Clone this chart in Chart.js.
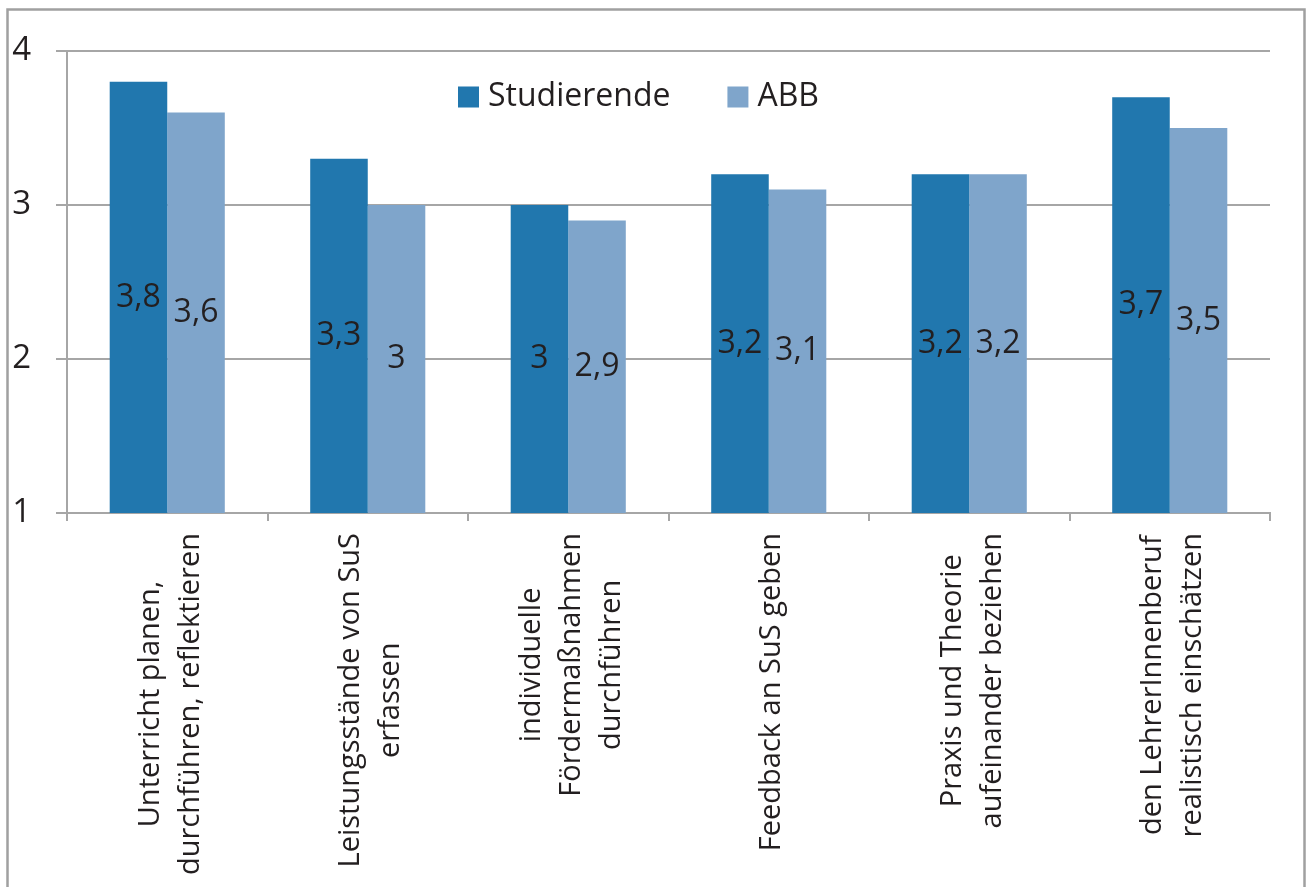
<!DOCTYPE html>
<html lang="de">
<head>
<meta charset="utf-8">
<title>Studierende / ABB</title>
<script src="https://cdn.jsdelivr.net/npm/chart.js@4.4.0/dist/chart.umd.min.js"></script>
<style>
  html, body { margin: 0; padding: 0; background: #fff; overflow: hidden; }
  #wrap { width: 1306px; height: 887px; position: relative; }
</style>
</head>
<body>
<div id="wrap"><canvas id="grafik"></canvas></div>
<script>
const kategorien = [
    ["Unterricht planen,", "durchführen, reflektieren"],
    ["Leistungsstände von SuS", "erfassen"],
    ["individuelle", "Fördermaßnahmen", "durchführen"],
    ["Feedback an SuS geben"],
    ["Praxis und Theorie", "aufeinander beziehen"],
    ["den LehrerInnenberuf", "realistisch einschätzen"]
];
const studierende = [3.8, 3.3, 3.0, 3.2, 3.2, 3.7];
const abb = [3.6, 3.0, 2.9, 3.1, 3.2, 3.5];
const yTicks = [1, 2, 3, 4];

const textFarbe = "#231f20";
const linienFarbe = "#a6a6a6";
const schrift = '"Open Sans", "DejaVu Sans", sans-serif';

function formatWert(v) {
    return String(v).replace(".", ",");
}

// grauer Rahmen um das ganze Diagramm
const rahmenPlugin = {
    id: "rahmen",
    beforeDraw(chart) {
        const ctx = chart.ctx;
        ctx.save();
        ctx.strokeStyle = "#a0a0a0";
        ctx.lineWidth = 2.5;
        ctx.strokeRect(7.5, 9.5, chart.width - 9, chart.height + 20);
        ctx.restore();
    }
};

// Werte mitten in den sichtbaren Teil der Balken
const wertePlugin = {
    id: "werte",
    afterDatasetsDraw(chart) {
        const ctx = chart.ctx;
        const unten = chart.chartArea.bottom;
        ctx.save();
        ctx.font = "32px " + schrift;
        ctx.fillStyle = textFarbe;
        ctx.textAlign = "center";
        ctx.textBaseline = "middle";
        chart.data.datasets.forEach((ds, di) => {
            const meta = chart.getDatasetMeta(di);
            meta.data.forEach((bar, i) => {
                const p = bar.getProps(["x", "y", "base"], true);
                const basis = Math.min(p.base, unten);
                ctx.fillText(formatWert(ds.data[i]), p.x, (p.y + basis) / 2);
            });
        });
        ctx.restore();
    }
};

// Legende innerhalb der Zeichenfläche
const legendePlugin = {
    id: "legende",
    afterDatasetsDraw(chart) {
        const ctx = chart.ctx;
        ctx.save();
        ctx.font = "32px " + schrift;
        ctx.textBaseline = "middle";
        ctx.textAlign = "left";
        let x = 458;
        const y = 97;
        chart.data.datasets.forEach((ds) => {
            ctx.fillStyle = ds.backgroundColor;
            ctx.fillRect(x, y - 10.5, 21, 21);
            ctx.fillStyle = textFarbe;
            ctx.fillText(ds.label, x + 30, y);
            x += 30 + ctx.measureText(ds.label).width + 57;
        });
        ctx.restore();
    }
};

// senkrechte, zentrierte Achsenbeschriftung
const xLabelPlugin = {
    id: "xLabels",
    afterDraw(chart) {
        const ctx = chart.ctx;
        const xs = chart.scales.x;
        ctx.save();
        ctx.font = "29px " + schrift;
        ctx.fillStyle = textFarbe;
        ctx.textAlign = "center";
        ctx.textBaseline = "middle";
        kategorien.forEach((zeilen, i) => {
            const px = xs.getPixelForValue(i);
            const breite = Math.max(...zeilen.map(z => ctx.measureText(z).width));
            const py = xs.top + 20 + breite / 2;
            ctx.save();
            ctx.translate(px + 3, py);
            ctx.rotate(-Math.PI / 2);
            zeilen.forEach((z, j) => {
                ctx.fillText(z, 0, (j - (zeilen.length - 1) / 2) * 40);
            });
            ctx.restore();
        });
        ctx.restore();
    }
};

const ctx = document.getElementById("grafik").getContext("2d");

const grafik = new Chart(ctx, {
    type: "bar",
    data: {
        labels: kategorien,
        datasets: [
            {
                label: "Studierende",
                data: studierende,
                backgroundColor: "#2177ae",
                borderWidth: 0
            },
            {
                label: "ABB",
                data: abb,
                backgroundColor: "#7fa5cb",
                borderWidth: 0
            }
        ]
    },
    options: {
        responsive: true,
        maintainAspectRatio: false,
        animation: false,
        categoryPercentage: 0.574,
        barPercentage: 1,
        layout: {
            padding: { top: 51, right: 36, bottom: 14, left: 0 }
        },
        plugins: {
            legend: { display: false },
            tooltip: { enabled: false }
        },
        scales: {
            x: {
                afterFit(scale) { scale.height = 360; },
                grid: {
                    offset: true,
                    drawOnChartArea: false,
                    drawTicks: true,
                    tickLength: 8,
                    color: linienFarbe,
                    lineWidth: 2
                },
                border: { display: true, color: linienFarbe, width: 2 },
                ticks: { display: false }
            },
            y: {
                min: 1,
                max: 4,
                afterFit(scale) { scale.width = 67; },
                afterBuildTicks(scale) {
                    scale.ticks = yTicks.map(v => ({ value: v }));
                },
                grid: {
                    color: linienFarbe,
                    lineWidth: 2,
                    tickLength: 11
                },
                border: { display: true, color: linienFarbe, width: 2 },
                ticks: {
                    stepSize: 1,
                    padding: 25,
                    color: textFarbe,
                    font: { family: schrift, size: 33 }
                }
            }
        }
    },
    plugins: [rahmenPlugin, wertePlugin, legendePlugin, xLabelPlugin]
});
</script>
</body>
</html>
